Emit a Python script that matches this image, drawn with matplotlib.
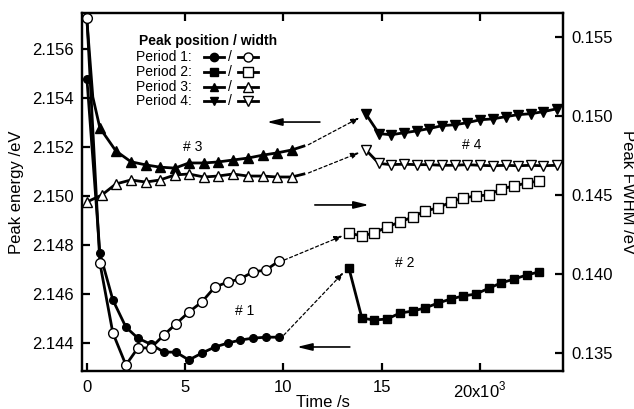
import matplotlib
matplotlib.use("Agg")
import matplotlib.pyplot as plt
from matplotlib.lines import Line2D

plt.rcParams['font.family'] = ['Liberation Sans', 'DejaVu Sans']
plt.rcParams['mathtext.fontset'] = 'custom'
plt.rcParams['mathtext.rm'] = 'Liberation Sans'

# ---------------- data ----------------
# Period 1 (t in s)
t1 = [0, 660, 1320, 1985, 2595, 3255, 3920, 4530, 5190, 5850, 6515, 7175, 7785, 8450, 9110, 9770]
e1 = [2.15478, 2.14767, 2.14576, 2.14465, 2.14420, 2.14395, 2.14363, 2.14363, 2.14331,
      2.14359, 2.14384, 2.14400, 2.14412, 2.14420, 2.14424, 2.14424]
w1 = [0.15620, 0.14070, 0.13627, 0.13424, 0.13532, 0.13532, 0.13614, 0.13684, 0.13759,
      0.13823, 0.13918, 0.13949, 0.13968, 0.14013, 0.14025, 0.14082]

# Period 2
t2 = [13333, 13995, 14605, 15267, 15928, 16590, 17200, 17862, 18524, 19135, 19796,
      20457, 21068, 21730, 22392, 23002]
e2 = [2.14706, 2.14502, 2.14494, 2.14498, 2.14522, 2.14531, 2.14543, 2.14563, 2.14580,
      2.14592, 2.14600, 2.14624, 2.14645, 2.14661, 2.14678, 2.14690]
w2 = [0.14259, 0.14241, 0.14259, 0.14297, 0.14329, 0.14361, 0.14399, 0.14418, 0.14456,
      0.14481, 0.14494, 0.14500, 0.14538, 0.14557, 0.14576, 0.14589]

# Period 3 (first two points: line start, then marker points)
t3 = [0, 300, 660, 1475, 2240, 3000, 3715, 4480, 5190, 5955, 6665, 7430, 8195, 8955, 9670, 10430, 11045]
e3 = [2.15718, 2.15404, 2.15278, 2.15184, 2.15140, 2.15127, 2.15118, 2.15114, 2.15135, 2.15135,
      2.15139, 2.15147, 2.15155, 2.15167, 2.15176, 2.15188, 2.15204]
t3w = [0, 760, 1475, 2240, 3000, 3715, 4480, 5190, 5955, 6665, 7430, 8195, 8955, 9670, 10430, 11045]
w3 = [0.14456, 0.14500, 0.14570, 0.14595, 0.14582, 0.14595, 0.14627, 0.14633, 0.14614,
      0.14620, 0.14633, 0.14620, 0.14620, 0.14614, 0.14614, 0.14633]

# Period 4
t4 = [14198, 14860, 15470, 16132, 16794, 17404, 18066, 18727, 19338, 20000, 20661,
      21323, 21933, 22595, 23206, 23918]
e4 = [2.15335, 2.15255, 2.15250, 2.15258, 2.15266, 2.15275, 2.15287, 2.15291, 2.15299,
      2.15311, 2.15315, 2.15324, 2.15332, 2.15336, 2.15344, 2.15356]
w4 = [0.14785, 0.14700, 0.14692, 0.14695, 0.14692, 0.14692, 0.14688, 0.14688, 0.14692,
      0.14688, 0.14685, 0.14688, 0.14685, 0.14688, 0.14685, 0.14688]

xticks = [0, 5000, 10000, 15000, 20000]
xticklabels = ['0', '5', '10', '15', '20x10$^3$']
eticks = [2.144, 2.146, 2.148, 2.150, 2.152, 2.154, 2.156]
wticks = [0.135, 0.140, 0.145, 0.150, 0.155]

# ---------------- figure ----------------
fig = plt.figure(figsize=(6.34, 4.09), dpi=100)
ax = fig.add_axes([82/634, 1-371/409, (563-82)/634, (371-13)/409])
ax2 = ax.twinx()

ax.set_xlim(-250, 24230)
ax.set_ylim(2.14286, 2.15747)
ax2.set_ylim(0.13386, 0.15652)

lw = 2.0
mkw = dict(color='black', lw=lw)

# energy (left axis, filled)
ax.plot(t1, e1, marker='o', ms=5.5, mfc='black', mec='black', **mkw)
ax.plot(t2, e2, marker='s', ms=6, mfc='black', mec='black', **mkw)
ax.plot(t3, e3, marker='^', ms=7, mfc='black', mec='black',
        markevery=list(range(2, len(t3) - 1)), **mkw)
ax.plot(t4, e4, marker='v', ms=7, mfc='black', mec='black', **mkw)

# width (right axis, open)
ax2.plot(t1, w1, marker='o', ms=7, mfc='white', mec='black', mew=1.0, **mkw)
ax2.plot(t2, w2, marker='s', ms=7, mfc='white', mec='black', mew=1.0, **mkw)
ax2.plot(t3w, w3, marker='^', ms=7, mfc='white', mec='black', mew=1.0,
         markevery=list(range(len(t3w) - 1)), **mkw)
ax2.plot(t4, w4, marker='v', ms=7, mfc='white', mec='black', mew=1.0, **mkw)

# dashed connector arrows
dash = dict(arrowstyle='-|>,head_length=0.5,head_width=0.18', color='black', lw=0.9,
            linestyle=(0, (2.5, 2)), shrinkA=2, shrinkB=2)
ax.annotate('', xy=(t2[0] - 180, e2[0] - 0.0001), xytext=(t1[-1] + 150, e1[-1]), arrowprops=dash)
ax2.annotate('', xy=(t2[0] - 180, w2[0] - 0.0001), xytext=(t1[-1] + 150, w1[-1]), arrowprops=dash)
ax.annotate('', xy=(t4[0] - 200, e4[0] - 0.0001), xytext=(t3[-1] + 100, e3[-1]), arrowprops=dash)
ax2.annotate('', xy=(t4[0] - 200, w4[0] - 0.0001), xytext=(t3w[-1] + 100, w3[-1]), arrowprops=dash)

# solid direction arrows
sol = dict(arrowstyle='-|>,head_length=0.9,head_width=0.22', color='black', lw=1.2,
           shrinkA=0, shrinkB=0)
ax.annotate('', xy=(9160, 2.15302), xytext=(11857, 2.15302), arrowprops=sol)
ax2.annotate('', xy=(14350, 0.14437), xytext=(11600, 0.14437), arrowprops=sol)
ax.annotate('', xy=(10690, 2.14384), xytext=(13380, 2.14384), arrowprops=sol)

# period labels
ax.text(5395, 2.1520, '# 3', fontsize=10, ha='center', va='center')
ax.text(8040, 2.1453, '# 1', fontsize=10, ha='center', va='center')
ax.text(16180, 2.14727, '# 2', fontsize=10, ha='center', va='center')
ax.text(19590, 2.15208, '# 4', fontsize=10, ha='center', va='center')

# axes styling
for a in (ax, ax2):
    for s in a.spines.values():
        s.set_linewidth(1.6)
ax.set_xticks(xticks)
ax.set_xticklabels(xticklabels)
ax.set_yticks(eticks)
ax.set_yticklabels(['%.3f' % v for v in eticks])
ax2.set_yticks(wticks)
ax2.set_yticklabels(['%.3f' % v for v in wticks])
ax.tick_params(axis='x', direction='in', length=6, width=1.6, labelsize=12, pad=6.5,
               top=True, bottom=True)
ax.tick_params(axis='y', direction='in', length=6, width=1.6, labelsize=12, pad=6,
               left=True, right=False)
ax2.tick_params(axis='y', direction='in', length=6, width=1.6, labelsize=12, pad=6)

ax.set_ylabel('Peak energy /eV', fontsize=12, labelpad=6)
ax2.set_ylabel('Peak FWHM /eV', fontsize=12, rotation=270, labelpad=16)
ax.set_xlabel('Time /s', fontsize=12)
ax.xaxis.set_label_coords(0.5, -0.068)

# legend (manual)
def fx(px):
    return px / 634
def fy(py):
    return 1 - py / 409

fig.text(fx(139), fy(41), 'Peak position / width', fontsize=10, fontweight='bold',
         ha='left', va='center')
rows = [('Period 1:', 'o'), ('Period 2:', 's'), ('Period 3:', '^'), ('Period 4:', 'v')]
for i, (lab, m) in enumerate(rows):
    y = [57, 72, 87, 101][i]
    fig.text(fx(136), fy(y), lab, fontsize=10, ha='left', va='center')
    fig.add_artist(Line2D([fx(204), fx(224)], [fy(y), fy(y)], color='black', lw=2,
                          transform=fig.transFigure))
    fig.add_artist(Line2D([fx(214)], [fy(y)], marker=m, ms=6, mfc='black', mec='black',
                          transform=fig.transFigure))
    fig.text(fx(230), fy(y), '/', fontsize=10, ha='center', va='center')
    fig.add_artist(Line2D([fx(238), fx(258)], [fy(y), fy(y)], color='black', lw=2,
                          transform=fig.transFigure))
    fig.add_artist(Line2D([fx(248)], [fy(y)], marker=m, ms=6.5, mfc='white', mec='black',
                          mew=1.0, transform=fig.transFigure))

fig.savefig('out.png', dpi=100)
